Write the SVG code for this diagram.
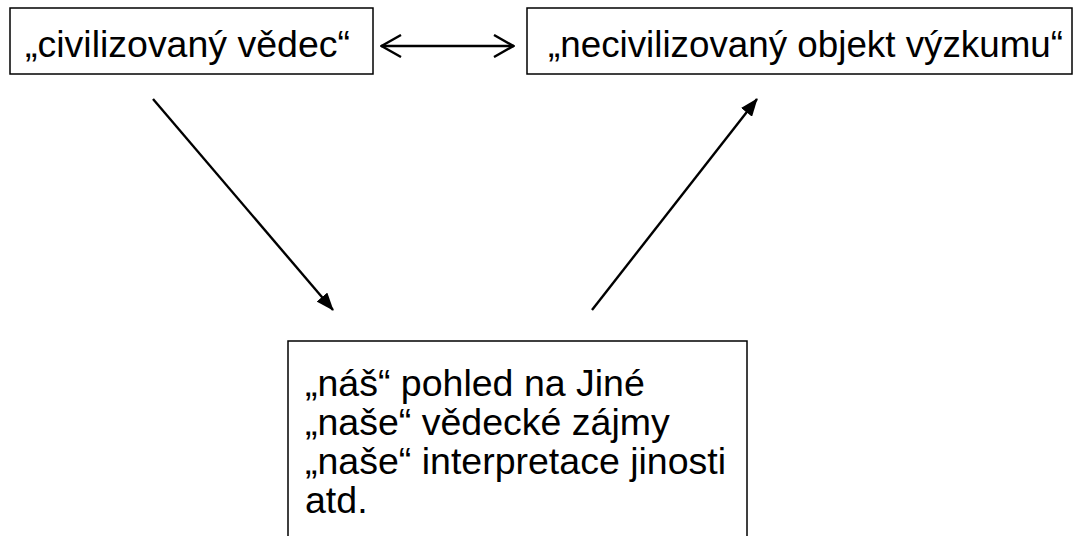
<svg xmlns="http://www.w3.org/2000/svg" width="1074" height="536" viewBox="0 0 1074 536">
<style>
.box{fill:#fff;stroke:#000;stroke-width:1.5}
.t{font-family:"Liberation Sans",Arial,sans-serif;font-size:37.5px;fill:#000}
.c{stroke:#000;stroke-width:2.4;fill:none}
</style>
<defs>
<marker id="fill" viewBox="0 0 18 14" refX="17" refY="7" markerWidth="18" markerHeight="14" markerUnits="userSpaceOnUse" orient="auto">
<path d="M0,0 L18,7 L0,14 z" fill="#000"/>
</marker>
<marker id="open" viewBox="0 0 22 24" refX="21" refY="12" markerWidth="22" markerHeight="24" markerUnits="userSpaceOnUse" orient="auto-start-reverse">
<path d="M1,1 L20.5,12 L1,23" fill="none" stroke="#000" stroke-width="2.4"/>
</marker>
</defs>
<rect width="1074" height="536" fill="#fff"/>
<g id="node-vedec">
<rect class="box" x="10" y="8" width="363" height="66"/>
<text class="t" x="25" y="57" textLength="325" lengthAdjust="spacingAndGlyphs">„civilizovaný vědec“</text>
</g>
<g id="node-objekt">
<rect class="box" x="527" y="8" width="545" height="66"/>
<text class="t" x="548" y="57" textLength="515" lengthAdjust="spacingAndGlyphs">„necivilizovaný objekt výzkumu“</text>
</g>
<g id="node-pohled">
<rect class="box" x="288" y="341" width="459" height="210"/>
<text class="t" x="305" y="396">„náš“ pohled na Jiné</text>
<text class="t" x="305" y="435">„naše“ vědecké zájmy</text>
<text class="t" x="305" y="474">„naše“ interpretace jinosti</text>
<text class="t" x="305" y="513">atd.</text>
</g>
<g id="connectors">
<line class="c" x1="381" y1="46" x2="514" y2="46" marker-start="url(#open)" marker-end="url(#open)"/>
<line class="c" x1="153" y1="99" x2="333" y2="310" marker-end="url(#fill)"/>
<line class="c" x1="592" y1="310" x2="757" y2="99" marker-end="url(#fill)"/>
</g>
</svg>
